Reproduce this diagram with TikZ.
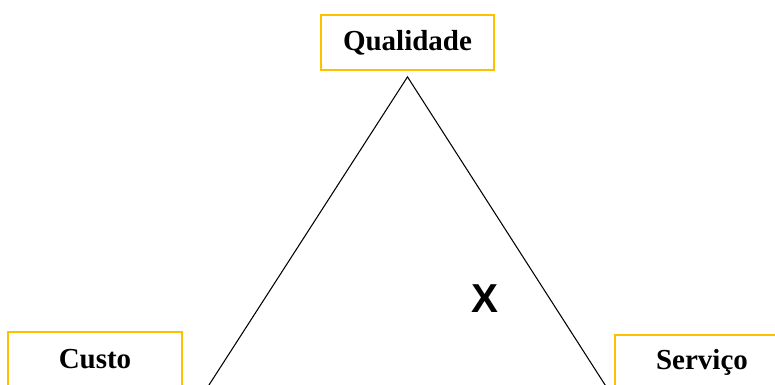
\documentclass[tikz,border=0pt]{standalone}
\usepackage{fontspec}
\setmainfont{Liberation Serif}
\newfontfamily\xfont{Liberation Sans}
\usetikzlibrary{positioning, calc}
\definecolor{boxgold}{HTML}{FFC000}

\begin{document}
\begin{tikzpicture}[x=0.02cm, y=-0.02cm,
    labelbox/.style={draw=boxgold, line width=1pt, minimum width=3.47cm, minimum height=1.1cm,
        font=\bfseries\fontsize{16.5}{18}\selectfont},
    side/.style={line width=0.6pt}]

    % --- Frame ---
    \useasboundingbox (0,0) rectangle (775,385);
    \clip (0,0) rectangle (775,385);

    % --- Corner boxes ---
    \node[labelbox] (qual) at (407.5,42.5) {Qualidade};
    \node[labelbox] (custo) at (95,359.5) {Custo};
    \node[labelbox] (serv) at (702,362.5) {Serviço};

    % --- Triangle sides ---
    \coordinate (apex) at ($(qual.south)+(0,6)$);
    \coordinate (footL) at (180,430);
    \coordinate (footR) at (634,430);
    \draw[side] (footL) -- (apex) -- (footR);

    % Centre mark
    \node[font=\xfont\bfseries\fontsize{23}{25}\selectfont] (mark) at (485,299) {X};

\end{tikzpicture}
\end{document}
